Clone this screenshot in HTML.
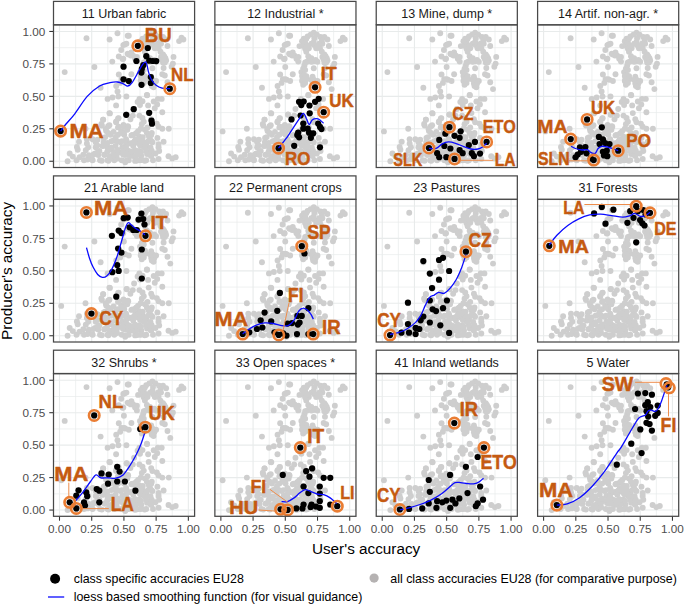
<!DOCTYPE html>
<html><head><meta charset="utf-8"><title>Accuracy</title>
<style>html,body{margin:0;padding:0;background:#fff}svg{display:block}</style>
</head><body>
<svg width="685" height="605" viewBox="0 0 685 605" font-family="Liberation Sans, Arial, sans-serif">
<rect width="685" height="605" fill="#fff"/>
<defs>
<g id="cloud" fill="#CECECE"><circle cx="33.0" cy="13.4" r="2.95"/><circle cx="56.1" cy="14.6" r="2.95"/><circle cx="64.0" cy="8.4" r="2.95"/><circle cx="74.2" cy="10.8" r="2.95"/><circle cx="71.1" cy="19.5" r="2.95"/><circle cx="67.7" cy="25.1" r="2.95"/><circle cx="74.2" cy="28.9" r="2.95"/><circle cx="65.3" cy="31.6" r="2.95"/><circle cx="69.1" cy="34.1" r="2.95"/><circle cx="58.8" cy="36.7" r="2.95"/><circle cx="40.9" cy="42.1" r="2.95"/><circle cx="11.2" cy="47.2" r="2.95"/><circle cx="70.4" cy="42.1" r="2.95"/><circle cx="65.3" cy="49.6" r="2.95"/><circle cx="68.0" cy="54.2" r="2.95"/><circle cx="71.7" cy="54.8" r="2.95"/><circle cx="66.7" cy="58.0" r="2.95"/><circle cx="62.7" cy="61.1" r="2.95"/><circle cx="47.1" cy="62.9" r="2.95"/><circle cx="64.0" cy="66.6" r="2.95"/><circle cx="64.9" cy="71.6" r="2.95"/><circle cx="59.0" cy="72.6" r="2.95"/><circle cx="54.1" cy="74.0" r="2.95"/><circle cx="72.9" cy="71.6" r="2.95"/><circle cx="75.3" cy="10.8" r="2.95"/><circle cx="72.9" cy="18.9" r="2.95"/><circle cx="69.8" cy="20.2" r="2.95"/><circle cx="98.9" cy="7.8" r="2.95"/><circle cx="95.8" cy="9.7" r="2.95"/><circle cx="92.7" cy="11.5" r="2.95"/><circle cx="89.0" cy="13.9" r="2.95"/><circle cx="87.2" cy="16.4" r="2.95"/><circle cx="102.0" cy="9.7" r="2.95"/><circle cx="105.7" cy="12.1" r="2.95"/><circle cx="109.5" cy="12.1" r="2.95"/><circle cx="112.6" cy="14.6" r="2.95"/><circle cx="107.0" cy="15.9" r="2.95"/><circle cx="107.5" cy="18.9" r="2.95"/><circle cx="114.0" cy="21.1" r="2.95"/><circle cx="84.6" cy="21.2" r="2.95"/><circle cx="88.3" cy="20.8" r="2.95"/><circle cx="90.3" cy="23.9" r="2.95"/><circle cx="94.0" cy="23.3" r="2.95"/><circle cx="96.5" cy="18.9" r="2.95"/><circle cx="99.5" cy="20.2" r="2.95"/><circle cx="101.3" cy="23.3" r="2.95"/><circle cx="105.1" cy="23.3" r="2.95"/><circle cx="91.4" cy="26.9" r="2.95"/><circle cx="107.0" cy="26.9" r="2.95"/><circle cx="109.5" cy="29.5" r="2.95"/><circle cx="107.5" cy="32.0" r="2.95"/><circle cx="111.9" cy="33.2" r="2.95"/><circle cx="112.6" cy="35.6" r="2.95"/><circle cx="109.5" cy="37.6" r="2.95"/><circle cx="120.0" cy="32.0" r="2.95"/><circle cx="119.4" cy="38.7" r="2.95"/><circle cx="118.1" cy="41.9" r="2.95"/><circle cx="110.1" cy="43.1" r="2.95"/><circle cx="128.0" cy="12.8" r="2.95"/><circle cx="129.9" cy="14.6" r="2.95"/><circle cx="125.6" cy="16.2" r="2.95"/><circle cx="77.9" cy="27.6" r="2.95"/><circle cx="75.3" cy="29.5" r="2.95"/><circle cx="79.7" cy="30.7" r="2.95"/><circle cx="83.4" cy="32.0" r="2.95"/><circle cx="83.4" cy="36.7" r="2.95"/><circle cx="93.4" cy="31.3" r="2.95"/><circle cx="94.6" cy="34.5" r="2.95"/><circle cx="92.1" cy="36.9" r="2.95"/><circle cx="98.9" cy="36.3" r="2.95"/><circle cx="102.6" cy="36.9" r="2.95"/><circle cx="89.6" cy="40.6" r="2.95"/><circle cx="88.3" cy="43.7" r="2.95"/><circle cx="98.9" cy="43.3" r="2.95"/><circle cx="86.5" cy="47.2" r="2.95"/><circle cx="89.0" cy="49.9" r="2.95"/><circle cx="89.6" cy="53.0" r="2.95"/><circle cx="87.2" cy="56.1" r="2.95"/><circle cx="92.1" cy="54.2" r="2.95"/><circle cx="88.3" cy="59.8" r="2.95"/><circle cx="77.9" cy="49.3" r="2.95"/><circle cx="69.8" cy="33.8" r="2.95"/><circle cx="70.4" cy="54.2" r="2.95"/><circle cx="75.3" cy="56.1" r="2.95"/><circle cx="97.7" cy="51.7" r="2.95"/><circle cx="98.9" cy="54.8" r="2.95"/><circle cx="102.6" cy="56.1" r="2.95"/><circle cx="97.7" cy="58.5" r="2.95"/><circle cx="100.1" cy="62.4" r="2.95"/><circle cx="108.8" cy="49.3" r="2.95"/><circle cx="111.3" cy="50.6" r="2.95"/><circle cx="114.0" cy="57.3" r="2.95"/><circle cx="116.8" cy="64.2" r="2.95"/><circle cx="93.6" cy="70.4" r="2.95"/><circle cx="85.9" cy="74.0" r="2.95"/><circle cx="104.4" cy="74.0" r="2.95"/><circle cx="108.2" cy="74.0" r="2.95"/><circle cx="7.7" cy="106.5" r="2.95"/><circle cx="32.0" cy="103.9" r="2.95"/><circle cx="14.1" cy="136.4" r="2.95"/><circle cx="16.2" cy="128.6" r="2.95"/><circle cx="19.3" cy="131.7" r="2.95"/><circle cx="23.0" cy="135.3" r="2.95"/><circle cx="23.4" cy="122.1" r="2.95"/><circle cx="24.2" cy="124.8" r="2.95"/><circle cx="25.5" cy="116.8" r="2.95"/><circle cx="26.1" cy="132.3" r="2.95"/><circle cx="29.8" cy="129.9" r="2.95"/><circle cx="30.5" cy="135.3" r="2.95"/><circle cx="32.3" cy="125.4" r="2.95"/><circle cx="33.4" cy="114.3" r="2.95"/><circle cx="33.4" cy="118.6" r="2.95"/><circle cx="34.7" cy="122.3" r="2.95"/><circle cx="35.4" cy="132.3" r="2.95"/><circle cx="39.1" cy="114.3" r="2.95"/><circle cx="39.1" cy="135.3" r="2.95"/><circle cx="42.2" cy="117.4" r="2.95"/><circle cx="42.2" cy="122.3" r="2.95"/><circle cx="41.6" cy="128.6" r="2.95"/><circle cx="44.0" cy="114.9" r="2.95"/><circle cx="45.9" cy="126.1" r="2.95"/><circle cx="46.5" cy="135.3" r="2.95"/><circle cx="48.4" cy="100.7" r="2.95"/><circle cx="49.6" cy="94.7" r="2.95"/><circle cx="49.0" cy="121.1" r="2.95"/><circle cx="50.2" cy="113.0" r="2.95"/><circle cx="50.8" cy="129.9" r="2.95"/><circle cx="52.7" cy="106.2" r="2.95"/><circle cx="53.9" cy="118.0" r="2.95"/><circle cx="53.9" cy="135.3" r="2.95"/><circle cx="54.6" cy="101.3" r="2.95"/><circle cx="56.4" cy="88.5" r="2.95"/><circle cx="57.0" cy="109.9" r="2.95"/><circle cx="57.5" cy="124.8" r="2.95"/><circle cx="58.8" cy="131.0" r="2.95"/><circle cx="60.1" cy="115.6" r="2.95"/><circle cx="60.8" cy="135.3" r="2.95"/><circle cx="62.6" cy="80.5" r="2.95"/><circle cx="62.6" cy="97.4" r="2.95"/><circle cx="62.0" cy="121.1" r="2.95"/><circle cx="65.1" cy="93.2" r="2.95"/><circle cx="64.5" cy="102.5" r="2.95"/><circle cx="64.5" cy="109.9" r="2.95"/><circle cx="65.1" cy="127.3" r="2.95"/><circle cx="66.9" cy="117.4" r="2.95"/><circle cx="67.6" cy="106.2" r="2.95"/><circle cx="68.2" cy="135.3" r="2.95"/><circle cx="68.8" cy="122.3" r="2.95"/><circle cx="70.0" cy="100.0" r="2.95"/><circle cx="70.7" cy="109.9" r="2.95"/><circle cx="71.3" cy="129.9" r="2.95"/><circle cx="73.1" cy="89.5" r="2.95"/><circle cx="73.1" cy="116.1" r="2.95"/><circle cx="73.8" cy="104.9" r="2.95"/><circle cx="55.9" cy="88.2" r="2.95"/><circle cx="49.7" cy="94.8" r="2.95"/><circle cx="73.3" cy="89.8" r="2.95"/><circle cx="64.6" cy="93.5" r="2.95"/><circle cx="55.9" cy="100.4" r="2.95"/><circle cx="47.9" cy="99.1" r="2.95"/><circle cx="52.3" cy="104.1" r="2.95"/><circle cx="62.7" cy="96.6" r="2.95"/><circle cx="93.4" cy="70.0" r="2.95"/><circle cx="89.0" cy="76.4" r="2.95"/><circle cx="84.1" cy="77.0" r="2.95"/><circle cx="86.5" cy="80.1" r="2.95"/><circle cx="94.6" cy="80.5" r="2.95"/><circle cx="100.2" cy="76.6" r="2.95"/><circle cx="103.7" cy="79.5" r="2.95"/><circle cx="101.3" cy="83.3" r="2.95"/><circle cx="108.8" cy="87.3" r="2.95"/><circle cx="80.6" cy="84.1" r="2.95"/><circle cx="79.3" cy="90.7" r="2.95"/><circle cx="76.9" cy="94.4" r="2.95"/><circle cx="85.9" cy="90.7" r="2.95"/><circle cx="89.0" cy="93.1" r="2.95"/><circle cx="90.3" cy="96.9" r="2.95"/><circle cx="88.3" cy="99.4" r="2.95"/><circle cx="95.2" cy="88.2" r="2.95"/><circle cx="97.7" cy="94.4" r="2.95"/><circle cx="98.9" cy="97.4" r="2.95"/><circle cx="103.3" cy="98.7" r="2.95"/><circle cx="105.1" cy="101.8" r="2.95"/><circle cx="108.8" cy="103.9" r="2.95"/><circle cx="115.3" cy="103.9" r="2.95"/><circle cx="74.2" cy="101.3" r="2.95"/><circle cx="70.4" cy="107.4" r="2.95"/><circle cx="94.0" cy="102.5" r="2.95"/><circle cx="91.4" cy="104.9" r="2.95"/><circle cx="84.6" cy="106.2" r="2.95"/><circle cx="82.2" cy="108.7" r="2.95"/><circle cx="77.9" cy="110.5" r="2.95"/><circle cx="93.4" cy="108.1" r="2.95"/><circle cx="98.3" cy="108.1" r="2.95"/><circle cx="95.2" cy="111.2" r="2.95"/><circle cx="85.9" cy="111.8" r="2.95"/><circle cx="88.3" cy="114.3" r="2.95"/><circle cx="82.2" cy="114.3" r="2.95"/><circle cx="96.5" cy="114.3" r="2.95"/><circle cx="98.9" cy="117.4" r="2.95"/><circle cx="103.9" cy="113.0" r="2.95"/><circle cx="110.1" cy="116.8" r="2.95"/><circle cx="105.1" cy="119.2" r="2.95"/><circle cx="105.1" cy="122.3" r="2.95"/><circle cx="105.7" cy="126.1" r="2.95"/><circle cx="102.0" cy="128.6" r="2.95"/><circle cx="76.6" cy="118.6" r="2.95"/><circle cx="72.9" cy="119.9" r="2.95"/><circle cx="79.7" cy="121.1" r="2.95"/><circle cx="84.6" cy="118.0" r="2.95"/><circle cx="87.8" cy="119.9" r="2.95"/><circle cx="92.7" cy="119.9" r="2.95"/><circle cx="90.3" cy="122.3" r="2.95"/><circle cx="70.4" cy="122.3" r="2.95"/><circle cx="75.3" cy="126.1" r="2.95"/><circle cx="81.6" cy="125.4" r="2.95"/><circle cx="85.9" cy="126.1" r="2.95"/><circle cx="94.6" cy="127.9" r="2.95"/><circle cx="71.7" cy="129.9" r="2.95"/><circle cx="77.9" cy="131.0" r="2.95"/><circle cx="87.8" cy="131.0" r="2.95"/><circle cx="97.7" cy="131.0" r="2.95"/><circle cx="115.0" cy="131.3" r="2.95"/><circle cx="118.7" cy="133.5" r="2.95"/><circle cx="122.2" cy="132.3" r="2.95"/><circle cx="105.1" cy="134.1" r="2.95"/><circle cx="99.5" cy="135.3" r="2.95"/><circle cx="92.7" cy="135.3" r="2.95"/><circle cx="86.5" cy="135.3" r="2.95"/><circle cx="81.6" cy="136.0" r="2.95"/><circle cx="75.3" cy="135.3" r="2.95"/><circle cx="71.7" cy="137.3" r="2.95"/><circle cx="81.6" cy="132.3" r="2.95"/><circle cx="34.0" cy="134.7" r="2.95"/><circle cx="38.8" cy="134.8" r="2.95"/><circle cx="48.3" cy="135.9" r="2.95"/><circle cx="55.0" cy="135.8" r="2.95"/><circle cx="59.3" cy="133.6" r="2.95"/><circle cx="63.5" cy="133.6" r="2.95"/><circle cx="72.7" cy="135.7" r="2.95"/><circle cx="83.6" cy="135.6" r="2.95"/><circle cx="87.9" cy="135.1" r="2.95"/><circle cx="91.2" cy="135.9" r="2.95"/><circle cx="35.4" cy="130.2" r="2.95"/><circle cx="40.1" cy="129.6" r="2.95"/><circle cx="44.8" cy="130.2" r="2.95"/><circle cx="51.1" cy="129.8" r="2.95"/><circle cx="56.2" cy="131.4" r="2.95"/><circle cx="60.4" cy="131.3" r="2.95"/><circle cx="63.3" cy="129.9" r="2.95"/><circle cx="69.4" cy="129.4" r="2.95"/><circle cx="74.5" cy="130.1" r="2.95"/><circle cx="78.7" cy="129.5" r="2.95"/><circle cx="83.5" cy="130.0" r="2.95"/><circle cx="93.5" cy="129.1" r="2.95"/><circle cx="97.3" cy="130.7" r="2.95"/><circle cx="44.4" cy="127.0" r="2.95"/><circle cx="53.8" cy="126.6" r="2.95"/><circle cx="60.5" cy="127.1" r="2.95"/><circle cx="64.4" cy="125.0" r="2.95"/><circle cx="70.0" cy="126.5" r="2.95"/><circle cx="73.5" cy="125.0" r="2.95"/><circle cx="77.7" cy="126.8" r="2.95"/><circle cx="82.7" cy="126.0" r="2.95"/><circle cx="87.5" cy="127.3" r="2.95"/><circle cx="92.6" cy="125.8" r="2.95"/><circle cx="98.2" cy="125.9" r="2.95"/><circle cx="43.8" cy="120.5" r="2.95"/><circle cx="50.6" cy="120.8" r="2.95"/><circle cx="54.2" cy="122.6" r="2.95"/><circle cx="58.1" cy="122.7" r="2.95"/><circle cx="72.4" cy="122.9" r="2.95"/><circle cx="86.6" cy="120.6" r="2.95"/><circle cx="91.7" cy="122.2" r="2.95"/><circle cx="97.0" cy="122.5" r="2.95"/><circle cx="50.0" cy="117.2" r="2.95"/><circle cx="63.8" cy="116.3" r="2.95"/><circle cx="78.8" cy="118.1" r="2.95"/><circle cx="82.3" cy="117.1" r="2.95"/><circle cx="89.2" cy="116.6" r="2.95"/><circle cx="92.7" cy="118.0" r="2.95"/><circle cx="97.9" cy="116.4" r="2.95"/><circle cx="90.3" cy="17.7" r="2.95"/><circle cx="92.7" cy="20.8" r="2.95"/><circle cx="91.4" cy="13.9" r="2.95"/><circle cx="104.4" cy="18.9" r="2.95"/><circle cx="102.6" cy="22.0" r="2.95"/><circle cx="99.5" cy="13.4" r="2.95"/><circle cx="98.9" cy="17.1" r="2.95"/><circle cx="110.7" cy="31.3" r="2.95"/><circle cx="108.8" cy="34.5" r="2.95"/><circle cx="111.3" cy="37.6" r="2.95"/><circle cx="96.5" cy="33.2" r="2.95"/><circle cx="96.5" cy="36.9" r="2.95"/><circle cx="100.8" cy="35.1" r="2.95"/><circle cx="90.3" cy="37.6" r="2.95"/><circle cx="90.3" cy="45.0" r="2.95"/><circle cx="87.2" cy="51.2" r="2.95"/><circle cx="91.5" cy="51.2" r="2.95"/><circle cx="87.8" cy="54.2" r="2.95"/><circle cx="90.3" cy="58.0" r="2.95"/><circle cx="96.5" cy="54.8" r="2.95"/><circle cx="100.8" cy="58.5" r="2.95"/><circle cx="98.3" cy="61.1" r="2.95"/><circle cx="77.3" cy="30.7" r="2.95"/><circle cx="81.6" cy="33.8" r="2.95"/><circle cx="54.8" cy="108.1" r="2.95"/><circle cx="51.7" cy="112.2" r="2.95"/><circle cx="70.4" cy="101.8" r="2.95"/><circle cx="74.7" cy="101.8" r="2.95"/><circle cx="68.4" cy="108.1" r="2.95"/><circle cx="62.1" cy="112.2" r="2.95"/><circle cx="78.9" cy="110.1" r="2.95"/><circle cx="83.1" cy="108.1" r="2.95"/><circle cx="87.2" cy="103.9" r="2.95"/><circle cx="89.3" cy="112.2" r="2.95"/><circle cx="85.1" cy="114.3" r="2.95"/><circle cx="81.0" cy="116.4" r="2.95"/><circle cx="72.6" cy="114.3" r="2.95"/><circle cx="68.4" cy="116.4" r="2.95"/><circle cx="57.9" cy="116.4" r="2.95"/><circle cx="94.5" cy="116.4" r="2.95"/><circle cx="97.7" cy="110.1" r="2.95"/><circle cx="65.3" cy="101.8" r="2.95"/><circle cx="60.1" cy="107.0" r="2.95"/></g>
<g id="grid" stroke="#E8EBEB" fill="none"><path d="M6.00 0V142.6" stroke-width="1.1"/><path d="M0 136.35H141.1" stroke-width="1.1"/><path d="M22.11 0V142.6" stroke-width="0.7"/><path d="M0 120.13H141.1" stroke-width="0.7"/><path d="M38.21 0V142.6" stroke-width="1.1"/><path d="M0 103.90H141.1" stroke-width="1.1"/><path d="M54.32 0V142.6" stroke-width="0.7"/><path d="M0 87.67H141.1" stroke-width="0.7"/><path d="M70.42 0V142.6" stroke-width="1.1"/><path d="M0 71.45H141.1" stroke-width="1.1"/><path d="M86.53 0V142.6" stroke-width="0.7"/><path d="M0 55.23H141.1" stroke-width="0.7"/><path d="M102.64 0V142.6" stroke-width="1.1"/><path d="M0 39.00H141.1" stroke-width="1.1"/><path d="M118.74 0V142.6" stroke-width="0.7"/><path d="M0 22.78H141.1" stroke-width="0.7"/><path d="M134.85 0V142.6" stroke-width="1.1"/><path d="M0 6.55H141.1" stroke-width="1.1"/></g>
</defs>
<g transform="translate(53.5,24.9)">
<clipPath id="cp0"><rect x="0" y="0" width="141.1" height="142.6"/></clipPath>
<use href="#grid"/><use href="#cloud"/>
<g fill="#000"><circle cx="7.1" cy="106.2" r="3.12"/><circle cx="84.3" cy="20.9" r="3.12"/><circle cx="116.3" cy="63.8" r="3.12"/><circle cx="94.3" cy="23.1" r="3.12"/><circle cx="92.8" cy="31.3" r="3.12"/><circle cx="82.9" cy="36.1" r="3.12"/><circle cx="95.7" cy="35.8" r="3.12"/><circle cx="99.4" cy="36.1" r="3.12"/><circle cx="102.8" cy="36.2" r="3.12"/><circle cx="70.0" cy="41.8" r="3.12"/><circle cx="89.8" cy="40.3" r="3.12"/><circle cx="88.3" cy="44.0" r="3.12"/><circle cx="87.9" cy="47.7" r="3.12"/><circle cx="70.0" cy="54.4" r="3.12"/><circle cx="75.3" cy="56.2" r="3.12"/><circle cx="97.3" cy="52.2" r="3.12"/><circle cx="97.3" cy="58.1" r="3.12"/><circle cx="88.0" cy="59.9" r="3.12"/><circle cx="80.2" cy="84.3" r="3.12"/><circle cx="72.7" cy="89.9" r="3.12"/><circle cx="95.7" cy="87.9" r="3.12"/><circle cx="98.0" cy="95.8" r="3.12"/><circle cx="98.5" cy="98.8" r="3.12"/></g>
<path d="M7.1 106.2C8.0 105.0 10.1 102.0 12.5 99.1C14.9 96.2 17.8 93.5 21.3 88.9C24.8 84.3 29.6 76.1 33.7 71.5C37.8 66.9 42.3 63.4 46.1 61.1C49.9 58.8 53.5 58.5 56.5 57.8C59.5 57.1 61.7 56.9 63.9 57.1C66.1 57.3 68.2 58.2 69.9 58.9C71.6 59.6 72.9 61.4 74.3 61.1C75.8 60.9 77.1 59.8 78.8 57.4C80.5 55.0 83.1 50.0 84.8 47.0C86.5 44.0 88.0 41.2 89.2 39.5C90.4 37.8 91.4 36.8 92.2 37.0C92.9 37.2 93.2 39.2 93.7 41.0C94.2 42.8 94.4 45.3 95.2 47.7C95.9 50.0 97.0 53.0 98.2 55.1C99.4 57.2 100.9 59.0 102.6 60.4C104.3 61.7 106.3 62.7 108.6 63.3C110.9 63.9 115.2 63.7 116.5 63.8" fill="none" stroke="#0A0AFF" stroke-width="1.3" stroke-linejoin="round" clip-path="url(#cp0)"/>
<circle cx="7.1" cy="106.2" r="5.2" fill="none" stroke="#EA7D33" stroke-width="2.65"/>
<circle cx="84.3" cy="20.9" r="5.2" fill="none" stroke="#EA7D33" stroke-width="2.65"/>
<circle cx="116.3" cy="63.8" r="5.2" fill="none" stroke="#EA7D33" stroke-width="2.65"/>
<text transform="translate(91.20,16.60) scale(0.915,1)" font-size="20.35" font-weight="700" fill="#C55A11" stroke="#C55A11" stroke-width="0.45" stroke-linejoin="round">BU</text>
<text transform="translate(117.47,56.10) scale(0.910,1)" font-size="18.60" font-weight="700" fill="#C55A11" stroke="#C55A11" stroke-width="0.45" stroke-linejoin="round">NL</text>
<text transform="translate(16.02,112.90) scale(1.122,1)" font-size="19.62" font-weight="700" fill="#C55A11" stroke="#C55A11" stroke-width="0.45" stroke-linejoin="round">MA</text>
<rect x="0" y="0" width="141.1" height="142.6" fill="none" stroke="#484848" stroke-width="1.25"/>
<rect x="0" y="-23.5" width="141.1" height="23.3" fill="#fff" stroke="#484848" stroke-width="1.25"/>
 <text x="70.5" y="-7.1" font-size="12.5" fill="#1A1A1A" text-anchor="middle">11 Urban fabric</text>
<path d="M-4.2 136.35H-0.5" stroke="#333" stroke-width="1.07"/>
<text x="-8.3" y="140.6" font-size="11.73" fill="#4D4D4D" text-anchor="end">0.00</text>
<path d="M-4.2 103.90H-0.5" stroke="#333" stroke-width="1.07"/>
<text x="-8.3" y="108.1" font-size="11.73" fill="#4D4D4D" text-anchor="end">0.25</text>
<path d="M-4.2 71.45H-0.5" stroke="#333" stroke-width="1.07"/>
<text x="-8.3" y="75.7" font-size="11.73" fill="#4D4D4D" text-anchor="end">0.50</text>
<path d="M-4.2 39.00H-0.5" stroke="#333" stroke-width="1.07"/>
<text x="-8.3" y="43.2" font-size="11.73" fill="#4D4D4D" text-anchor="end">0.75</text>
<path d="M-4.2 6.55H-0.5" stroke="#333" stroke-width="1.07"/>
<text x="-8.3" y="10.8" font-size="11.73" fill="#4D4D4D" text-anchor="end">1.00</text>
</g>
<g transform="translate(214.87,24.9)">
<clipPath id="cp1"><rect x="0" y="0" width="141.1" height="142.6"/></clipPath>
<use href="#grid"/><use href="#cloud"/>
<g fill="#000"><circle cx="100.2" cy="62.4" r="3.12"/><circle cx="108.8" cy="87.3" r="3.12"/><circle cx="63.7" cy="123.3" r="3.12"/><circle cx="84.2" cy="76.9" r="3.12"/><circle cx="88.8" cy="76.6" r="3.12"/><circle cx="86.4" cy="80.2" r="3.12"/><circle cx="94.6" cy="80.6" r="3.12"/><circle cx="100.2" cy="76.9" r="3.12"/><circle cx="103.8" cy="73.9" r="3.12"/><circle cx="94.8" cy="88.4" r="3.12"/><circle cx="85.7" cy="90.6" r="3.12"/><circle cx="76.6" cy="94.5" r="3.12"/><circle cx="88.4" cy="98.7" r="3.12"/><circle cx="88.4" cy="103.8" r="3.12"/><circle cx="92.8" cy="103.8" r="3.12"/><circle cx="83.3" cy="107.8" r="3.12"/><circle cx="82.4" cy="110.2" r="3.12"/><circle cx="84.2" cy="112.4" r="3.12"/><circle cx="94.2" cy="107.8" r="3.12"/><circle cx="98.4" cy="108.4" r="3.12"/><circle cx="96.0" cy="112.9" r="3.12"/><circle cx="103.3" cy="98.7" r="3.12"/><circle cx="105.1" cy="102.0" r="3.12"/><circle cx="106.6" cy="104.2" r="3.12"/><circle cx="79.3" cy="120.9" r="3.12"/><circle cx="105.1" cy="122.4" r="3.12"/></g>
<path d="M63.6 123.3C64.9 121.6 69.0 116.8 71.5 113.3C74.0 109.8 76.6 105.6 78.7 102.4C80.8 99.2 82.6 96.5 84.2 94.2C85.8 91.9 87.2 88.5 88.4 88.4C89.6 88.3 90.6 91.7 91.5 93.6C92.5 95.5 93.3 99.3 94.2 99.6C95.2 99.8 96.1 96.1 97.3 95.1C98.5 94.1 100.2 93.8 101.5 93.8C102.8 93.8 103.9 94.3 105.1 95.1C106.3 95.9 108.1 97.9 108.7 98.4" fill="none" stroke="#0A0AFF" stroke-width="1.3" stroke-linejoin="round" clip-path="url(#cp1)"/>
<circle cx="100.2" cy="62.4" r="5.2" fill="none" stroke="#EA7D33" stroke-width="2.65"/>
<circle cx="108.8" cy="87.3" r="5.2" fill="none" stroke="#EA7D33" stroke-width="2.65"/>
<circle cx="63.7" cy="123.3" r="5.2" fill="none" stroke="#EA7D33" stroke-width="2.65"/>
<text transform="translate(105.93,54.90) scale(1.000,1)" font-size="17.88" font-weight="700" fill="#C55A11" stroke="#C55A11" stroke-width="0.45" stroke-linejoin="round">IT</text>
<text transform="translate(114.36,81.70) scale(0.926,1)" font-size="18.31" font-weight="700" fill="#C55A11" stroke="#C55A11" stroke-width="0.45" stroke-linejoin="round">UK</text>
<text transform="translate(70.10,139.80) scale(0.930,1)" font-size="18.17" font-weight="700" fill="#C55A11" stroke="#C55A11" stroke-width="0.45" stroke-linejoin="round">RO</text>
<rect x="0" y="0" width="141.1" height="142.6" fill="none" stroke="#484848" stroke-width="1.25"/>
<rect x="0" y="-23.5" width="141.1" height="23.3" fill="#fff" stroke="#484848" stroke-width="1.25"/>
 <text x="70.5" y="-7.1" font-size="12.5" fill="#1A1A1A" text-anchor="middle">12 Industrial *</text>
</g>
<g transform="translate(376.23,24.9)">
<clipPath id="cp2"><rect x="0" y="0" width="141.1" height="142.6"/></clipPath>
<use href="#grid"/><use href="#cloud"/>
<g fill="#000"><circle cx="73.2" cy="102.3" r="3.12"/><circle cx="110.4" cy="117.0" r="3.12"/><circle cx="52.7" cy="123.1" r="3.12"/><circle cx="78.3" cy="134.0" r="3.12"/><circle cx="84.4" cy="106.4" r="3.12"/><circle cx="69.1" cy="108.8" r="3.12"/><circle cx="78.3" cy="110.9" r="3.12"/><circle cx="83.4" cy="112.9" r="3.12"/><circle cx="63.0" cy="115.0" r="3.12"/><circle cx="98.7" cy="117.0" r="3.12"/><circle cx="68.1" cy="121.1" r="3.12"/><circle cx="74.2" cy="123.6" r="3.12"/><circle cx="92.6" cy="120.1" r="3.12"/><circle cx="83.4" cy="125.2" r="3.12"/><circle cx="86.4" cy="128.3" r="3.12"/><circle cx="95.6" cy="128.3" r="3.12"/><circle cx="97.7" cy="131.3" r="3.12"/><circle cx="103.8" cy="128.7" r="3.12"/><circle cx="60.9" cy="128.3" r="3.12"/><circle cx="63.0" cy="132.3" r="3.12"/><circle cx="70.1" cy="132.3" r="3.12"/></g>
<path d="M52.7 123.5C53.9 123.5 57.7 124.2 59.9 123.5C62.1 122.8 63.9 120.1 66.0 119.0C68.0 117.9 70.0 117.1 72.2 117.0C74.4 116.9 76.7 117.6 79.3 118.4C81.8 119.2 84.9 120.7 87.5 121.7C90.0 122.6 92.2 123.7 94.6 124.1C97.0 124.5 99.7 124.5 101.8 124.1C103.8 123.7 105.4 122.6 106.9 121.7C108.3 120.7 109.8 119.0 110.4 118.4" fill="none" stroke="#0A0AFF" stroke-width="1.3" stroke-linejoin="round" clip-path="url(#cp2)"/>
<path d="M84.4 135.4L117.0 135.4" stroke="#EE8D4C" stroke-width="1.0" fill="none"/>
<circle cx="73.2" cy="102.3" r="5.2" fill="none" stroke="#EA7D33" stroke-width="2.65"/>
<circle cx="110.4" cy="117.0" r="5.2" fill="none" stroke="#EA7D33" stroke-width="2.65"/>
<circle cx="52.7" cy="123.1" r="5.2" fill="none" stroke="#EA7D33" stroke-width="2.65"/>
<circle cx="78.3" cy="134.0" r="5.2" fill="none" stroke="#EA7D33" stroke-width="2.65"/>
<text transform="translate(76.02,95.30) scale(0.879,1)" font-size="18.02" font-weight="700" fill="#C55A11" stroke="#C55A11" stroke-width="0.45" stroke-linejoin="round">CZ</text>
<text transform="translate(106.59,108.45) scale(0.889,1)" font-size="18.17" font-weight="700" fill="#C55A11" stroke="#C55A11" stroke-width="0.45" stroke-linejoin="round">ETO</text>
<text transform="translate(16.95,140.70) scale(0.822,1)" font-size="17.73" font-weight="700" fill="#C55A11" stroke="#C55A11" stroke-width="0.45" stroke-linejoin="round">SLK</text>
<text transform="translate(118.52,141.10) scale(0.882,1)" font-size="17.73" font-weight="700" fill="#C55A11" stroke="#C55A11" stroke-width="0.45" stroke-linejoin="round">LA</text>
<rect x="0" y="0" width="141.1" height="142.6" fill="none" stroke="#484848" stroke-width="1.25"/>
<rect x="0" y="-23.5" width="141.1" height="23.3" fill="#fff" stroke="#484848" stroke-width="1.25"/>
 <text x="70.5" y="-7.1" font-size="12.5" fill="#1A1A1A" text-anchor="middle">13 Mine, dump *</text>
</g>
<g transform="translate(537.6,24.9)">
<clipPath id="cp3"><rect x="0" y="0" width="141.1" height="142.6"/></clipPath>
<use href="#grid"/><use href="#cloud"/>
<g fill="#000"><circle cx="49.5" cy="94.5" r="3.12"/><circle cx="33.1" cy="114.2" r="3.12"/><circle cx="80.6" cy="125.8" r="3.12"/><circle cx="56.1" cy="135.2" r="3.12"/><circle cx="64.2" cy="102.4" r="3.12"/><circle cx="61.3" cy="112.0" r="3.12"/><circle cx="65.3" cy="114.4" r="3.12"/><circle cx="67.5" cy="118.1" r="3.12"/><circle cx="62.0" cy="119.2" r="3.12"/><circle cx="71.9" cy="119.2" r="3.12"/><circle cx="42.3" cy="122.5" r="3.12"/><circle cx="47.8" cy="122.1" r="3.12"/><circle cx="43.4" cy="126.9" r="3.12"/><circle cx="48.9" cy="128.4" r="3.12"/><circle cx="40.1" cy="129.7" r="3.12"/><circle cx="37.9" cy="132.4" r="3.12"/><circle cx="65.3" cy="126.9" r="3.12"/><circle cx="69.2" cy="125.8" r="3.12"/><circle cx="66.4" cy="130.6" r="3.12"/><circle cx="69.7" cy="131.3" r="3.12"/><circle cx="53.2" cy="133.5" r="3.12"/></g>
<path d="M33.5 121.4C34.2 121.8 36.1 123.0 37.9 123.6C39.7 124.2 42.5 124.9 44.5 125.1C46.5 125.3 48.4 124.3 49.9 124.7C51.3 125.1 51.9 126.9 53.2 127.5C54.5 128.1 56.4 129.1 57.6 128.4C58.8 127.8 59.4 124.8 60.5 123.6C61.6 122.4 62.7 121.7 64.2 121.4C65.7 121.2 67.9 121.7 69.7 122.1C71.5 122.5 73.3 123.0 75.1 123.6C76.9 124.2 79.7 125.4 80.6 125.8" fill="none" stroke="#0A0AFF" stroke-width="1.3" stroke-linejoin="round" clip-path="url(#cp3)"/>
<path d="M31.4 135.9L50.4 135.9" stroke="#EE8D4C" stroke-width="1.0" fill="none"/>
<circle cx="49.5" cy="94.5" r="5.2" fill="none" stroke="#EA7D33" stroke-width="2.65"/>
<circle cx="33.1" cy="114.2" r="5.2" fill="none" stroke="#EA7D33" stroke-width="2.65"/>
<circle cx="80.6" cy="125.8" r="5.2" fill="none" stroke="#EA7D33" stroke-width="2.65"/>
<circle cx="56.1" cy="135.2" r="5.2" fill="none" stroke="#EA7D33" stroke-width="2.65"/>
<text transform="translate(53.40,88.70) scale(0.917,1)" font-size="18.17" font-weight="700" fill="#C55A11" stroke="#C55A11" stroke-width="0.45" stroke-linejoin="round">UK</text>
<text transform="translate(-0.35,108.00) scale(1.088,1)" font-size="17.88" font-weight="700" fill="#C55A11" stroke="#C55A11" stroke-width="0.45" stroke-linejoin="round">MA</text>
<text transform="translate(88.66,121.70) scale(0.939,1)" font-size="18.17" font-weight="700" fill="#C55A11" stroke="#C55A11" stroke-width="0.45" stroke-linejoin="round">PO</text>
<text transform="translate(0.49,140.00) scale(0.870,1)" font-size="18.17" font-weight="700" fill="#C55A11" stroke="#C55A11" stroke-width="0.45" stroke-linejoin="round">SLN</text>
<rect x="0" y="0" width="141.1" height="142.6" fill="none" stroke="#484848" stroke-width="1.25"/>
<rect x="0" y="-23.5" width="141.1" height="23.3" fill="#fff" stroke="#484848" stroke-width="1.25"/>
 <text x="70.5" y="-7.1" font-size="12.5" fill="#1A1A1A" text-anchor="middle">14 Artif. non-agr. *</text>
</g>
<g transform="translate(53.5,199.4)">
<clipPath id="cp4"><rect x="0" y="0" width="141.1" height="142.6"/></clipPath>
<use href="#grid"/><use href="#cloud"/>
<g fill="#000"><circle cx="32.9" cy="13.0" r="3.12"/><circle cx="92.0" cy="36.4" r="3.12"/><circle cx="37.9" cy="114.2" r="3.12"/><circle cx="87.9" cy="14.2" r="3.12"/><circle cx="70.2" cy="18.8" r="3.12"/><circle cx="74.2" cy="18.2" r="3.12"/><circle cx="85.1" cy="20.2" r="3.12"/><circle cx="89.7" cy="19.7" r="3.12"/><circle cx="91.0" cy="25.1" r="3.12"/><circle cx="76.1" cy="27.9" r="3.12"/><circle cx="79.7" cy="30.6" r="3.12"/><circle cx="83.3" cy="30.6" r="3.12"/><circle cx="65.2" cy="31.2" r="3.12"/><circle cx="67.9" cy="33.7" r="3.12"/><circle cx="58.4" cy="36.4" r="3.12"/><circle cx="64.6" cy="49.1" r="3.12"/><circle cx="67.9" cy="53.3" r="3.12"/><circle cx="88.3" cy="50.1" r="3.12"/><circle cx="63.7" cy="65.7" r="3.12"/><circle cx="58.8" cy="72.8" r="3.12"/><circle cx="65.2" cy="71.5" r="3.12"/><circle cx="88.3" cy="79.1" r="3.12"/><circle cx="62.8" cy="97.3" r="3.12"/></g>
<path d="M33.0 48.2C33.5 50.0 34.9 55.5 36.0 58.8C37.1 62.1 38.3 65.2 39.7 67.9C41.1 70.6 42.7 73.4 44.2 75.1C45.7 76.8 47.3 77.7 48.8 77.9C50.3 78.2 51.8 77.8 53.3 76.6C54.8 75.4 56.2 73.7 57.9 70.6C59.6 67.5 61.6 62.6 63.3 57.9C65.0 53.2 66.5 47.1 67.9 42.4C69.3 37.7 70.4 32.9 71.5 29.7C72.6 26.5 73.5 24.0 74.6 23.3C75.7 22.6 76.5 24.6 77.9 25.7C79.4 26.8 81.6 28.6 83.3 29.7C85.0 30.8 86.5 31.4 87.9 32.4C89.3 33.4 90.9 35.0 91.5 35.5" fill="none" stroke="#0A0AFF" stroke-width="1.3" stroke-linejoin="round" clip-path="url(#cp4)"/>
<circle cx="32.9" cy="13.0" r="5.2" fill="none" stroke="#EA7D33" stroke-width="2.65"/>
<circle cx="92.0" cy="36.4" r="5.2" fill="none" stroke="#EA7D33" stroke-width="2.65"/>
<circle cx="37.9" cy="114.2" r="5.2" fill="none" stroke="#EA7D33" stroke-width="2.65"/>
<text transform="translate(40.53,15.20) scale(1.136,1)" font-size="19.33" font-weight="700" fill="#C55A11" stroke="#C55A11" stroke-width="0.45" stroke-linejoin="round">MA</text>
<text transform="translate(96.91,29.50) scale(1.003,1)" font-size="19.19" font-weight="700" fill="#C55A11" stroke="#C55A11" stroke-width="0.45" stroke-linejoin="round">IT</text>
<text transform="translate(45.79,126.00) scale(0.867,1)" font-size="19.91" font-weight="700" fill="#C55A11" stroke="#C55A11" stroke-width="0.45" stroke-linejoin="round">CY</text>
<rect x="0" y="0" width="141.1" height="142.6" fill="none" stroke="#484848" stroke-width="1.25"/>
<rect x="0" y="-23.5" width="141.1" height="23.3" fill="#fff" stroke="#484848" stroke-width="1.25"/>
 <text x="70.5" y="-7.1" font-size="12.5" fill="#1A1A1A" text-anchor="middle">21 Arable land</text>
<path d="M-4.2 136.35H-0.5" stroke="#333" stroke-width="1.07"/>
<text x="-8.3" y="140.6" font-size="11.73" fill="#4D4D4D" text-anchor="end">0.00</text>
<path d="M-4.2 103.90H-0.5" stroke="#333" stroke-width="1.07"/>
<text x="-8.3" y="108.1" font-size="11.73" fill="#4D4D4D" text-anchor="end">0.25</text>
<path d="M-4.2 71.45H-0.5" stroke="#333" stroke-width="1.07"/>
<text x="-8.3" y="75.7" font-size="11.73" fill="#4D4D4D" text-anchor="end">0.50</text>
<path d="M-4.2 39.00H-0.5" stroke="#333" stroke-width="1.07"/>
<text x="-8.3" y="43.2" font-size="11.73" fill="#4D4D4D" text-anchor="end">0.75</text>
<path d="M-4.2 6.55H-0.5" stroke="#333" stroke-width="1.07"/>
<text x="-8.3" y="10.8" font-size="11.73" fill="#4D4D4D" text-anchor="end">1.00</text>
</g>
<g transform="translate(214.87,199.4)">
<clipPath id="cp5"><rect x="0" y="0" width="141.1" height="142.6"/></clipPath>
<use href="#grid"/><use href="#cloud"/>
<g fill="#000"><circle cx="86.9" cy="46.8" r="3.12"/><circle cx="27.8" cy="134.7" r="3.12"/><circle cx="63.9" cy="135.5" r="3.12"/><circle cx="98.3" cy="134.7" r="3.12"/><circle cx="89.6" cy="54.1" r="3.12"/><circle cx="65.0" cy="93.5" r="3.12"/><circle cx="93.5" cy="108.8" r="3.12"/><circle cx="62.4" cy="111.4" r="3.12"/><circle cx="49.7" cy="113.2" r="3.12"/><circle cx="45.8" cy="120.9" r="3.12"/><circle cx="56.3" cy="122.0" r="3.12"/><circle cx="82.5" cy="116.5" r="3.12"/><circle cx="86.9" cy="116.5" r="3.12"/><circle cx="72.7" cy="124.2" r="3.12"/><circle cx="77.1" cy="123.7" r="3.12"/><circle cx="84.7" cy="123.1" r="3.12"/><circle cx="83.0" cy="125.2" r="3.12"/><circle cx="42.0" cy="129.6" r="3.12"/><circle cx="47.5" cy="128.1" r="3.12"/><circle cx="34.4" cy="132.9" r="3.12"/><circle cx="59.6" cy="132.9" r="3.12"/><circle cx="68.3" cy="134.0" r="3.12"/><circle cx="71.6" cy="136.2" r="3.12"/><circle cx="82.1" cy="134.7" r="3.12"/><circle cx="93.5" cy="134.7" r="3.12"/></g>
<path d="M27.8 134.6C28.7 133.9 31.0 131.7 33.2 130.3C35.4 128.8 38.2 127.0 40.9 125.9C43.7 124.8 46.8 123.8 49.7 123.5C52.6 123.2 55.5 123.6 58.4 124.1C61.4 124.6 64.7 126.0 67.2 126.3C69.8 126.6 71.7 126.8 73.7 125.9C75.7 125.0 77.6 123.1 79.2 120.8C80.9 118.5 82.2 114.1 83.6 112.1C85.1 110.1 86.6 109.0 88.0 108.8C89.5 108.5 91.1 109.7 92.4 110.6C93.6 111.5 94.6 112.8 95.6 114.3C96.7 115.8 98.0 118.8 98.5 119.7" fill="none" stroke="#0A0AFF" stroke-width="1.3" stroke-linejoin="round" clip-path="url(#cp5)"/>
<path d="M74.2 103.3L68.3 130.7" stroke="#EE8D4C" stroke-width="1.0" fill="none"/>
<circle cx="86.9" cy="46.8" r="5.2" fill="none" stroke="#EA7D33" stroke-width="2.65"/>
<circle cx="27.8" cy="134.7" r="5.2" fill="none" stroke="#EA7D33" stroke-width="2.65"/>
<circle cx="63.9" cy="135.5" r="5.2" fill="none" stroke="#EA7D33" stroke-width="2.65"/>
<circle cx="98.3" cy="134.7" r="5.2" fill="none" stroke="#EA7D33" stroke-width="2.65"/>
<text transform="translate(92.57,39.30) scale(0.882,1)" font-size="19.77" font-weight="700" fill="#C55A11" stroke="#C55A11" stroke-width="0.45" stroke-linejoin="round">SP</text>
<text transform="translate(73.17,102.70) scale(0.878,1)" font-size="19.77" font-weight="700" fill="#C55A11" stroke="#C55A11" stroke-width="0.45" stroke-linejoin="round">FI</text>
<text transform="translate(-0.32,127.00) scale(1.105,1)" font-size="19.62" font-weight="700" fill="#C55A11" stroke="#C55A11" stroke-width="0.45" stroke-linejoin="round">MA</text>
<text transform="translate(107.18,134.10) scale(0.950,1)" font-size="19.62" font-weight="700" fill="#C55A11" stroke="#C55A11" stroke-width="0.45" stroke-linejoin="round">IR</text>
<rect x="0" y="0" width="141.1" height="142.6" fill="none" stroke="#484848" stroke-width="1.25"/>
<rect x="0" y="-23.5" width="141.1" height="23.3" fill="#fff" stroke="#484848" stroke-width="1.25"/>
 <text x="70.5" y="-7.1" font-size="12.5" fill="#1A1A1A" text-anchor="middle">22 Permanent crops</text>
</g>
<g transform="translate(376.23,199.4)">
<clipPath id="cp6"><rect x="0" y="0" width="141.1" height="142.6"/></clipPath>
<use href="#grid"/><use href="#cloud"/>
<g fill="#000"><circle cx="89.7" cy="52.3" r="3.12"/><circle cx="13.8" cy="135.7" r="3.12"/><circle cx="47.1" cy="61.7" r="3.12"/><circle cx="62.8" cy="60.6" r="3.12"/><circle cx="66.8" cy="58.4" r="3.12"/><circle cx="72.9" cy="71.6" r="3.12"/><circle cx="53.6" cy="74.2" r="3.12"/><circle cx="62.8" cy="80.3" r="3.12"/><circle cx="55.8" cy="88.7" r="3.12"/><circle cx="31.7" cy="103.3" r="3.12"/><circle cx="53.6" cy="101.1" r="3.12"/><circle cx="70.7" cy="101.1" r="3.12"/><circle cx="66.8" cy="108.8" r="3.12"/><circle cx="56.4" cy="109.9" r="3.12"/><circle cx="59.8" cy="111.7" r="3.12"/><circle cx="47.1" cy="117.1" r="3.12"/><circle cx="44.4" cy="120.9" r="3.12"/><circle cx="53.6" cy="123.1" r="3.12"/><circle cx="31.7" cy="124.6" r="3.12"/><circle cx="64.1" cy="125.9" r="3.12"/><circle cx="39.4" cy="128.5" r="3.12"/><circle cx="43.1" cy="129.6" r="3.12"/><circle cx="25.2" cy="133.3" r="3.12"/><circle cx="32.8" cy="133.3" r="3.12"/><circle cx="39.4" cy="134.6" r="3.12"/><circle cx="72.9" cy="133.5" r="3.12"/></g>
<path d="M13.8 135.1C15.1 134.8 19.1 134.2 21.9 133.3C24.7 132.4 27.7 131.3 30.6 129.6C33.5 127.9 37.0 125.4 39.4 123.0C41.8 120.6 43.2 118.3 44.9 115.4C46.5 112.5 47.8 108.4 49.3 105.5C50.7 102.6 52.1 99.5 53.6 97.9C55.0 96.3 56.5 96.5 58.0 95.7C59.4 94.9 60.7 93.3 62.4 93.0C64.0 92.7 66.1 94.5 67.9 93.9C69.7 93.3 71.3 91.8 73.3 89.5C75.3 87.2 77.9 83.8 79.9 80.3C81.9 76.8 83.7 72.5 85.4 68.3C87.0 64.1 89.0 57.4 89.8 55.2" fill="none" stroke="#0A0AFF" stroke-width="1.3" stroke-linejoin="round" clip-path="url(#cp6)"/>
<circle cx="89.7" cy="52.3" r="5.2" fill="none" stroke="#EA7D33" stroke-width="2.65"/>
<circle cx="13.8" cy="135.7" r="5.2" fill="none" stroke="#EA7D33" stroke-width="2.65"/>
<text transform="translate(92.26,47.30) scale(0.877,1)" font-size="19.77" font-weight="700" fill="#C55A11" stroke="#C55A11" stroke-width="0.45" stroke-linejoin="round">CZ</text>
<text transform="translate(0.97,127.40) scale(0.863,1)" font-size="19.91" font-weight="700" fill="#C55A11" stroke="#C55A11" stroke-width="0.45" stroke-linejoin="round">CY</text>
<rect x="0" y="0" width="141.1" height="142.6" fill="none" stroke="#484848" stroke-width="1.25"/>
<rect x="0" y="-23.5" width="141.1" height="23.3" fill="#fff" stroke="#484848" stroke-width="1.25"/>
 <text x="70.5" y="-7.1" font-size="12.5" fill="#1A1A1A" text-anchor="middle">23 Pastures</text>
</g>
<g transform="translate(537.6,199.4)">
<clipPath id="cp7"><rect x="0" y="0" width="141.1" height="142.6"/></clipPath>
<use href="#grid"/><use href="#cloud"/>
<g fill="#000"><circle cx="11.7" cy="46.4" r="3.12"/><circle cx="98.6" cy="6.8" r="3.12"/><circle cx="112.4" cy="13.4" r="3.12"/><circle cx="64.2" cy="7.5" r="3.12"/><circle cx="75.8" cy="10.3" r="3.12"/><circle cx="56.5" cy="14.0" r="3.12"/><circle cx="92.6" cy="11.8" r="3.12"/><circle cx="100.3" cy="11.8" r="3.12"/><circle cx="105.8" cy="10.7" r="3.12"/><circle cx="108.0" cy="15.1" r="3.12"/><circle cx="95.9" cy="18.4" r="3.12"/><circle cx="102.5" cy="20.6" r="3.12"/><circle cx="104.7" cy="23.9" r="3.12"/><circle cx="106.9" cy="26.1" r="3.12"/><circle cx="89.8" cy="23.4" r="3.12"/><circle cx="67.9" cy="24.3" r="3.12"/><circle cx="98.6" cy="42.9" r="3.12"/></g>
<path d="M11.6 45.8C12.9 44.1 16.2 39.2 19.3 35.9C22.4 32.6 26.5 28.8 30.2 26.1C33.8 23.4 37.5 21.3 41.2 19.5C44.8 17.7 48.5 16.3 52.1 15.5C55.8 14.7 59.5 14.6 63.1 14.7C66.8 14.8 70.4 15.7 74.0 16.2C77.6 16.7 81.9 17.7 85.0 17.7C88.1 17.7 90.6 16.8 92.6 16.2C94.6 15.6 95.4 13.9 97.0 14.0C98.6 14.1 100.7 16.5 102.5 16.9C104.3 17.3 106.4 16.9 108.0 16.2C109.6 15.5 111.6 13.5 112.4 12.9" fill="none" stroke="#0A0AFF" stroke-width="1.3" stroke-linejoin="round" clip-path="url(#cp7)"/>
<path d="M46.8 5.1L92.9 5.1" stroke="#EE8D4C" stroke-width="1.0" fill="none"/>
<circle cx="11.7" cy="46.4" r="5.2" fill="none" stroke="#EA7D33" stroke-width="2.65"/>
<circle cx="98.6" cy="6.8" r="5.2" fill="none" stroke="#EA7D33" stroke-width="2.65"/>
<circle cx="112.4" cy="13.4" r="5.2" fill="none" stroke="#EA7D33" stroke-width="2.65"/>
<text transform="translate(25.63,14.70) scale(0.874,1)" font-size="18.31" font-weight="700" fill="#C55A11" stroke="#C55A11" stroke-width="0.45" stroke-linejoin="round">LA</text>
<text transform="translate(116.62,35.10) scale(0.895,1)" font-size="18.02" font-weight="700" fill="#C55A11" stroke="#C55A11" stroke-width="0.45" stroke-linejoin="round">DE</text>
<text transform="translate(20.68,53.25) scale(1.097,1)" font-size="18.02" font-weight="700" fill="#C55A11" stroke="#C55A11" stroke-width="0.45" stroke-linejoin="round">MA</text>
<rect x="0" y="0" width="141.1" height="142.6" fill="none" stroke="#484848" stroke-width="1.25"/>
<rect x="0" y="-23.5" width="141.1" height="23.3" fill="#fff" stroke="#484848" stroke-width="1.25"/>
 <text x="70.5" y="-7.1" font-size="12.5" fill="#1A1A1A" text-anchor="middle">31 Forests</text>
</g>
<g transform="translate(53.5,373.7)">
<clipPath id="cp8"><rect x="0" y="0" width="141.1" height="142.6"/></clipPath>
<use href="#grid"/><use href="#cloud"/>
<g fill="#000"><circle cx="40.7" cy="41.7" r="3.12"/><circle cx="91.8" cy="53.5" r="3.12"/><circle cx="16.2" cy="128.6" r="3.12"/><circle cx="22.8" cy="134.7" r="3.12"/><circle cx="86.7" cy="55.3" r="3.12"/><circle cx="63.7" cy="93.1" r="3.12"/><circle cx="66.1" cy="97.9" r="3.12"/><circle cx="48.0" cy="99.7" r="3.12"/><circle cx="55.2" cy="100.8" r="3.12"/><circle cx="63.7" cy="107.8" r="3.12"/><circle cx="71.4" cy="107.8" r="3.12"/><circle cx="54.5" cy="110.0" r="3.12"/><circle cx="43.2" cy="115.4" r="3.12"/><circle cx="45.8" cy="117.0" r="3.12"/><circle cx="81.9" cy="117.0" r="3.12"/><circle cx="25.0" cy="116.6" r="3.12"/><circle cx="32.7" cy="118.7" r="3.12"/><circle cx="22.8" cy="122.0" r="3.12"/><circle cx="33.7" cy="122.5" r="3.12"/><circle cx="30.5" cy="128.6" r="3.12"/><circle cx="45.8" cy="128.6" r="3.12"/><circle cx="31.5" cy="131.9" r="3.12"/></g>
<path d="M21.7 127.5C23.0 126.0 26.7 122.0 29.3 118.7C31.8 115.4 34.8 110.7 37.0 107.8C39.2 104.9 40.8 101.8 42.5 101.2C44.2 100.6 45.3 103.6 47.3 104.1C49.3 104.6 52.0 104.0 54.5 104.1C57.0 104.2 59.8 104.9 62.2 104.5C64.6 104.1 66.6 103.7 68.8 101.9C71.0 100.1 73.1 96.8 75.3 93.6C77.5 90.4 79.9 86.4 81.9 82.6C83.9 78.8 85.8 74.8 87.4 70.6C89.0 66.4 91.0 59.6 91.8 57.4" fill="none" stroke="#0A0AFF" stroke-width="1.3" stroke-linejoin="round" clip-path="url(#cp8)"/>
<path d="M15.3 108.9L15.3 122.6" stroke="#EE8D4C" stroke-width="1.0" fill="none"/>
<path d="M29.0 134.9L55.3 134.9" stroke="#EE8D4C" stroke-width="1.0" fill="none"/>
<circle cx="40.7" cy="41.7" r="5.2" fill="none" stroke="#EA7D33" stroke-width="2.65"/>
<circle cx="91.8" cy="53.5" r="5.2" fill="none" stroke="#EA7D33" stroke-width="2.65"/>
<circle cx="16.2" cy="128.6" r="5.2" fill="none" stroke="#EA7D33" stroke-width="2.65"/>
<circle cx="22.8" cy="134.7" r="5.2" fill="none" stroke="#EA7D33" stroke-width="2.65"/>
<text transform="translate(45.06,34.45) scale(0.966,1)" font-size="19.19" font-weight="700" fill="#C55A11" stroke="#C55A11" stroke-width="0.45" stroke-linejoin="round">NL</text>
<text transform="translate(94.96,46.00) scale(0.936,1)" font-size="19.48" font-weight="700" fill="#C55A11" stroke="#C55A11" stroke-width="0.45" stroke-linejoin="round">UK</text>
<text transform="translate(0.73,107.30) scale(1.132,1)" font-size="19.33" font-weight="700" fill="#C55A11" stroke="#C55A11" stroke-width="0.45" stroke-linejoin="round">MA</text>
<text transform="translate(57.13,137.50) scale(0.905,1)" font-size="19.33" font-weight="700" fill="#C55A11" stroke="#C55A11" stroke-width="0.45" stroke-linejoin="round">LA</text>
<rect x="0" y="0" width="141.1" height="142.6" fill="none" stroke="#484848" stroke-width="1.25"/>
<rect x="0" y="-23.5" width="141.1" height="23.3" fill="#fff" stroke="#484848" stroke-width="1.25"/>
 <text x="70.5" y="-7.1" font-size="12.5" fill="#1A1A1A" text-anchor="middle">32 Shrubs *</text>
<path d="M-4.2 136.35H-0.5" stroke="#333" stroke-width="1.07"/>
<text x="-8.3" y="140.6" font-size="11.73" fill="#4D4D4D" text-anchor="end">0.00</text>
<path d="M-4.2 103.90H-0.5" stroke="#333" stroke-width="1.07"/>
<text x="-8.3" y="108.1" font-size="11.73" fill="#4D4D4D" text-anchor="end">0.25</text>
<path d="M-4.2 71.45H-0.5" stroke="#333" stroke-width="1.07"/>
<text x="-8.3" y="75.7" font-size="11.73" fill="#4D4D4D" text-anchor="end">0.50</text>
<path d="M-4.2 39.00H-0.5" stroke="#333" stroke-width="1.07"/>
<text x="-8.3" y="43.2" font-size="11.73" fill="#4D4D4D" text-anchor="end">0.75</text>
<path d="M-4.2 6.55H-0.5" stroke="#333" stroke-width="1.07"/>
<text x="-8.3" y="10.8" font-size="11.73" fill="#4D4D4D" text-anchor="end">1.00</text>
<path d="M6.00 143.1V147.0" stroke="#333" stroke-width="1.07"/>
<text x="6.0" y="159.0" font-size="11.73" fill="#4D4D4D" text-anchor="middle">0.00</text>
<path d="M38.21 143.1V147.0" stroke="#333" stroke-width="1.07"/>
<text x="38.2" y="159.0" font-size="11.73" fill="#4D4D4D" text-anchor="middle">0.25</text>
<path d="M70.42 143.1V147.0" stroke="#333" stroke-width="1.07"/>
<text x="70.4" y="159.0" font-size="11.73" fill="#4D4D4D" text-anchor="middle">0.50</text>
<path d="M102.64 143.1V147.0" stroke="#333" stroke-width="1.07"/>
<text x="102.6" y="159.0" font-size="11.73" fill="#4D4D4D" text-anchor="middle">0.75</text>
<path d="M134.85 143.1V147.0" stroke="#333" stroke-width="1.07"/>
<text x="134.8" y="159.0" font-size="11.73" fill="#4D4D4D" text-anchor="middle">1.00</text>
</g>
<g transform="translate(214.87,373.7)">
<clipPath id="cp9"><rect x="0" y="0" width="141.1" height="142.6"/></clipPath>
<use href="#grid"/><use href="#cloud"/>
<g fill="#000"><circle cx="85.4" cy="73.9" r="3.12"/><circle cx="122.4" cy="132.5" r="3.12"/><circle cx="65.7" cy="135.6" r="3.12"/><circle cx="72.7" cy="136.2" r="3.12"/><circle cx="67.9" cy="101.2" r="3.12"/><circle cx="91.3" cy="97.5" r="3.12"/><circle cx="97.2" cy="94.7" r="3.12"/><circle cx="94.6" cy="103.0" r="3.12"/><circle cx="108.8" cy="104.1" r="3.12"/><circle cx="115.4" cy="104.1" r="3.12"/><circle cx="88.7" cy="112.8" r="3.12"/><circle cx="104.9" cy="112.8" r="3.12"/><circle cx="93.5" cy="119.4" r="3.12"/><circle cx="104.9" cy="119.9" r="3.12"/><circle cx="104.9" cy="127.5" r="3.12"/><circle cx="88.7" cy="130.8" r="3.12"/><circle cx="96.7" cy="130.8" r="3.12"/><circle cx="115.4" cy="130.8" r="3.12"/><circle cx="81.5" cy="134.7" r="3.12"/><circle cx="87.6" cy="134.7" r="3.12"/><circle cx="95.7" cy="133.4" r="3.12"/><circle cx="101.1" cy="133.0" r="3.12"/><circle cx="104.9" cy="134.1" r="3.12"/></g>
<path d="M66.7 127.9C67.7 127.9 70.5 128.5 72.6 127.9C74.7 127.3 77.2 125.6 79.2 124.2C81.2 122.8 82.9 120.8 84.7 119.4C86.6 118.0 88.4 116.2 90.2 115.9C92.0 115.6 93.6 116.9 95.6 117.6C97.6 118.3 100.0 119.8 102.2 120.3C104.4 120.9 106.6 120.3 108.8 120.9C111.0 121.6 113.1 122.7 115.3 124.2C117.5 125.7 120.8 128.8 121.9 129.7" fill="none" stroke="#0A0AFF" stroke-width="1.3" stroke-linejoin="round" clip-path="url(#cp9)"/>
<path d="M55.0 115.6L73.2 128.8" stroke="#EE8D4C" stroke-width="1.0" fill="none"/>
<path d="M43.6 136.3L59.6 137.3" stroke="#EE8D4C" stroke-width="1.0" fill="none"/>
<circle cx="85.4" cy="73.9" r="5.2" fill="none" stroke="#EA7D33" stroke-width="2.65"/>
<circle cx="122.4" cy="132.5" r="5.2" fill="none" stroke="#EA7D33" stroke-width="2.65"/>
<circle cx="65.7" cy="135.6" r="5.2" fill="none" stroke="#EA7D33" stroke-width="2.65"/>
<circle cx="72.7" cy="136.2" r="5.2" fill="none" stroke="#EA7D33" stroke-width="2.65"/>
<text transform="translate(92.35,68.90) scale(0.953,1)" font-size="20.06" font-weight="700" fill="#C55A11" stroke="#C55A11" stroke-width="0.45" stroke-linejoin="round">IT</text>
<text transform="translate(125.35,125.30) scale(0.849,1)" font-size="19.04" font-weight="700" fill="#C55A11" stroke="#C55A11" stroke-width="0.45" stroke-linejoin="round">LI</text>
<text transform="translate(35.54,119.00) scale(0.932,1)" font-size="19.04" font-weight="700" fill="#C55A11" stroke="#C55A11" stroke-width="0.45" stroke-linejoin="round">FI</text>
<text transform="translate(14.29,140.05) scale(1.054,1)" font-size="19.04" font-weight="700" fill="#C55A11" stroke="#C55A11" stroke-width="0.45" stroke-linejoin="round">HU</text>
<rect x="0" y="0" width="141.1" height="142.6" fill="none" stroke="#484848" stroke-width="1.25"/>
<rect x="0" y="-23.5" width="141.1" height="23.3" fill="#fff" stroke="#484848" stroke-width="1.25"/>
 <text x="70.5" y="-7.1" font-size="12.5" fill="#1A1A1A" text-anchor="middle">33 Open spaces *</text>
<path d="M6.00 143.1V147.0" stroke="#333" stroke-width="1.07"/>
<text x="6.0" y="159.0" font-size="11.73" fill="#4D4D4D" text-anchor="middle">0.00</text>
<path d="M38.21 143.1V147.0" stroke="#333" stroke-width="1.07"/>
<text x="38.2" y="159.0" font-size="11.73" fill="#4D4D4D" text-anchor="middle">0.25</text>
<path d="M70.42 143.1V147.0" stroke="#333" stroke-width="1.07"/>
<text x="70.4" y="159.0" font-size="11.73" fill="#4D4D4D" text-anchor="middle">0.50</text>
<path d="M102.64 143.1V147.0" stroke="#333" stroke-width="1.07"/>
<text x="102.6" y="159.0" font-size="11.73" fill="#4D4D4D" text-anchor="middle">0.75</text>
<path d="M134.85 143.1V147.0" stroke="#333" stroke-width="1.07"/>
<text x="134.8" y="159.0" font-size="11.73" fill="#4D4D4D" text-anchor="middle">1.00</text>
</g>
<g transform="translate(376.23,373.7)">
<clipPath id="cp10"><rect x="0" y="0" width="141.1" height="142.6"/></clipPath>
<use href="#grid"/><use href="#cloud"/>
<g fill="#000"><circle cx="78.1" cy="49.4" r="3.12"/><circle cx="107.7" cy="73.9" r="3.12"/><circle cx="23.6" cy="135.8" r="3.12"/><circle cx="101.4" cy="83.3" r="3.12"/><circle cx="89.7" cy="93.1" r="3.12"/><circle cx="73.8" cy="101.2" r="3.12"/><circle cx="52.5" cy="106.3" r="3.12"/><circle cx="103.9" cy="112.8" r="3.12"/><circle cx="53.6" cy="118.1" r="3.12"/><circle cx="91.3" cy="119.4" r="3.12"/><circle cx="83.1" cy="124.7" r="3.12"/><circle cx="106.8" cy="126.0" r="3.12"/><circle cx="76.2" cy="126.0" r="3.12"/><circle cx="70.1" cy="126.9" r="3.12"/><circle cx="60.9" cy="127.5" r="3.12"/><circle cx="66.1" cy="128.6" r="3.12"/><circle cx="52.5" cy="129.7" r="3.12"/><circle cx="79.2" cy="129.7" r="3.12"/><circle cx="101.4" cy="129.7" r="3.12"/><circle cx="99.6" cy="132.5" r="3.12"/><circle cx="46.0" cy="134.7" r="3.12"/><circle cx="60.2" cy="134.1" r="3.12"/><circle cx="74.0" cy="134.1" r="3.12"/><circle cx="32.8" cy="135.2" r="3.12"/></g>
<path d="M23.6 136.2C25.1 135.9 29.4 135.0 32.8 134.1C36.1 133.2 40.1 132.1 43.8 130.8C47.4 129.5 51.0 128.2 54.7 126.4C58.3 124.6 62.6 122.0 65.7 119.8C68.8 117.6 71.1 115.1 73.3 113.3C75.5 111.5 76.9 109.6 78.8 108.9C80.6 108.2 82.1 108.7 84.3 108.9C86.5 109.1 89.6 109.8 91.9 110.0C94.3 110.2 96.6 110.3 98.5 110.0C100.3 109.7 101.4 109.1 102.9 108.2C104.3 107.3 106.5 105.1 107.3 104.5" fill="none" stroke="#0A0AFF" stroke-width="1.3" stroke-linejoin="round" clip-path="url(#cp10)"/>
<circle cx="78.1" cy="49.4" r="5.2" fill="none" stroke="#EA7D33" stroke-width="2.65"/>
<circle cx="107.7" cy="73.9" r="5.2" fill="none" stroke="#EA7D33" stroke-width="2.65"/>
<circle cx="23.6" cy="135.8" r="5.2" fill="none" stroke="#EA7D33" stroke-width="2.65"/>
<text transform="translate(83.44,42.45) scale(0.946,1)" font-size="19.48" font-weight="700" fill="#C55A11" stroke="#C55A11" stroke-width="0.45" stroke-linejoin="round">IR</text>
<text transform="translate(104.23,95.60) scale(0.909,1)" font-size="19.62" font-weight="700" fill="#C55A11" stroke="#C55A11" stroke-width="0.45" stroke-linejoin="round">ETO</text>
<text transform="translate(0.77,128.50) scale(0.865,1)" font-size="19.62" font-weight="700" fill="#C55A11" stroke="#C55A11" stroke-width="0.45" stroke-linejoin="round">CY</text>
<rect x="0" y="0" width="141.1" height="142.6" fill="none" stroke="#484848" stroke-width="1.25"/>
<rect x="0" y="-23.5" width="141.1" height="23.3" fill="#fff" stroke="#484848" stroke-width="1.25"/>
 <text x="70.5" y="-7.1" font-size="12.5" fill="#1A1A1A" text-anchor="middle">41 Inland wetlands</text>
<path d="M6.00 143.1V147.0" stroke="#333" stroke-width="1.07"/>
<text x="6.0" y="159.0" font-size="11.73" fill="#4D4D4D" text-anchor="middle">0.00</text>
<path d="M38.21 143.1V147.0" stroke="#333" stroke-width="1.07"/>
<text x="38.2" y="159.0" font-size="11.73" fill="#4D4D4D" text-anchor="middle">0.25</text>
<path d="M70.42 143.1V147.0" stroke="#333" stroke-width="1.07"/>
<text x="70.4" y="159.0" font-size="11.73" fill="#4D4D4D" text-anchor="middle">0.50</text>
<path d="M102.64 143.1V147.0" stroke="#333" stroke-width="1.07"/>
<text x="102.6" y="159.0" font-size="11.73" fill="#4D4D4D" text-anchor="middle">0.75</text>
<path d="M134.85 143.1V147.0" stroke="#333" stroke-width="1.07"/>
<text x="134.8" y="159.0" font-size="11.73" fill="#4D4D4D" text-anchor="middle">1.00</text>
</g>
<g transform="translate(537.6,373.7)">
<clipPath id="cp11"><rect x="0" y="0" width="141.1" height="142.6"/></clipPath>
<use href="#grid"/><use href="#cloud"/>
<g fill="#000"><circle cx="129.1" cy="10.7" r="3.12"/><circle cx="130.6" cy="13.6" r="3.12"/><circle cx="19.2" cy="131.4" r="3.12"/><circle cx="100.3" cy="19.8" r="3.12"/><circle cx="107.7" cy="19.4" r="3.12"/><circle cx="114.3" cy="21.0" r="3.12"/><circle cx="110.2" cy="28.5" r="3.12"/><circle cx="107.7" cy="31.5" r="3.12"/><circle cx="112.7" cy="33.4" r="3.12"/><circle cx="120.1" cy="31.8" r="3.12"/><circle cx="97.5" cy="35.3" r="3.12"/><circle cx="108.9" cy="37.5" r="3.12"/><circle cx="120.1" cy="39.2" r="3.12"/><circle cx="117.6" cy="42.1" r="3.12"/><circle cx="110.6" cy="42.9" r="3.12"/><circle cx="108.9" cy="49.1" r="3.12"/><circle cx="112.0" cy="50.4" r="3.12"/><circle cx="102.7" cy="55.7" r="3.12"/><circle cx="114.3" cy="56.9" r="3.12"/><circle cx="93.7" cy="70.0" r="3.12"/><circle cx="104.0" cy="79.4" r="3.12"/><circle cx="79.2" cy="91.0" r="3.12"/></g>
<path d="M19.2 131.4C20.9 131.2 25.8 131.4 29.6 130.2C33.4 129.0 37.9 126.9 42.0 124.0C46.1 121.1 50.3 117.1 54.4 112.8C58.5 108.5 62.7 103.6 66.8 98.0C70.9 92.4 76.4 83.5 79.2 79.4C82.0 75.4 81.3 77.1 83.5 73.7C85.7 70.3 89.5 63.4 92.2 58.8C94.9 54.3 97.9 49.0 99.6 46.4C101.4 43.8 101.3 44.1 102.7 43.3C104.0 42.5 106.3 42.4 107.7 41.4C109.0 40.4 109.8 37.9 110.8 37.1C111.8 36.3 112.8 36.4 113.9 36.5C115.0 36.6 116.5 38.0 117.6 37.7C118.7 37.4 119.7 36.3 120.7 34.6C121.7 33.0 122.9 30.2 123.8 27.8C124.7 25.4 125.4 23.1 126.3 20.4C127.2 17.7 128.9 13.1 129.4 11.7" fill="none" stroke="#0A0AFF" stroke-width="1.3" stroke-linejoin="round" clip-path="url(#cp11)"/>
<path d="M97.5 8.6L122.6 8.6" stroke="#EE8D4C" stroke-width="1.0" fill="none"/>
<path d="M130.9 20.0L130.9 42.7" stroke="#EE8D4C" stroke-width="1.0" fill="none"/>
<circle cx="128.4" cy="9.9" r="5.2" fill="none" stroke="#EA7D33" stroke-width="2.65"/>
<circle cx="131.7" cy="14.1" r="5.2" fill="none" stroke="#EA7D33" stroke-width="2.65"/>
<circle cx="19.2" cy="131.4" r="5.2" fill="none" stroke="#EA7D33" stroke-width="2.65"/>
<text transform="translate(64.03,17.75) scale(1.003,1)" font-size="19.48" font-weight="700" fill="#C55A11" stroke="#C55A11" stroke-width="0.45" stroke-linejoin="round">SW</text>
<text transform="translate(122.96,58.75) scale(0.898,1)" font-size="19.77" font-weight="700" fill="#C55A11" stroke="#C55A11" stroke-width="0.45" stroke-linejoin="round">FI</text>
<text transform="translate(1.43,122.90) scale(1.103,1)" font-size="19.91" font-weight="700" fill="#C55A11" stroke="#C55A11" stroke-width="0.45" stroke-linejoin="round">MA</text>
<rect x="0" y="0" width="141.1" height="142.6" fill="none" stroke="#484848" stroke-width="1.25"/>
<rect x="0" y="-23.5" width="141.1" height="23.3" fill="#fff" stroke="#484848" stroke-width="1.25"/>
 <text x="70.5" y="-7.1" font-size="12.5" fill="#1A1A1A" text-anchor="middle">5 Water</text>
<path d="M6.00 143.1V147.0" stroke="#333" stroke-width="1.07"/>
<text x="6.0" y="159.0" font-size="11.73" fill="#4D4D4D" text-anchor="middle">0.00</text>
<path d="M38.21 143.1V147.0" stroke="#333" stroke-width="1.07"/>
<text x="38.2" y="159.0" font-size="11.73" fill="#4D4D4D" text-anchor="middle">0.25</text>
<path d="M70.42 143.1V147.0" stroke="#333" stroke-width="1.07"/>
<text x="70.4" y="159.0" font-size="11.73" fill="#4D4D4D" text-anchor="middle">0.50</text>
<path d="M102.64 143.1V147.0" stroke="#333" stroke-width="1.07"/>
<text x="102.6" y="159.0" font-size="11.73" fill="#4D4D4D" text-anchor="middle">0.75</text>
<path d="M134.85 143.1V147.0" stroke="#333" stroke-width="1.07"/>
<text x="134.8" y="159.0" font-size="11.73" fill="#4D4D4D" text-anchor="middle">1.00</text>
</g>
<text x="366.1" y="553.9" font-size="15.3" fill="#000" text-anchor="middle">User's accuracy</text>
<text transform="translate(12.4,271) rotate(-90)" font-size="15.3" fill="#000" text-anchor="middle">Producer's accuracy</text>
<circle cx="55.1" cy="578.7" r="5.0" fill="#000"/>
<text x="73.7" y="583.0" font-size="12.4" fill="#000">class specific accuracies EU28</text>
<path d="M48.0 597.0H64.2" stroke="#0A0AFF" stroke-width="1.3"/>
<text x="73.7" y="601.0" font-size="12.4" fill="#000">loess based smoothing function (for visual guidance)</text>
<circle cx="374.1" cy="578.1" r="4.6" fill="#B5B2B2"/>
<text x="390.3" y="583.0" font-size="12.4" fill="#000">all class accuracies EU28 (for comparative purpose)</text>
</svg>
</body></html>
